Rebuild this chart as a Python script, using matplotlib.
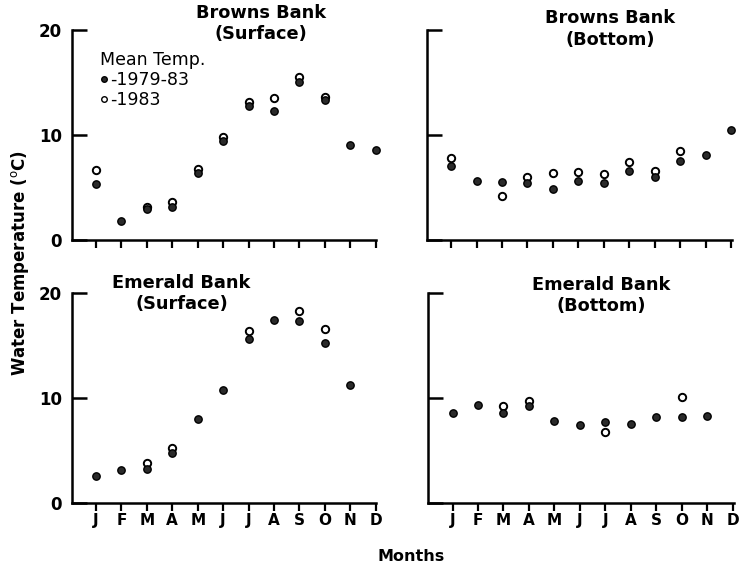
import matplotlib
matplotlib.use('Agg')
import matplotlib.pyplot as plt
import numpy as np
from matplotlib.lines import Line2D

plt.rcParams['font.family'] = ['DejaVu Sans']

nan = np.nan
months = ['J', 'F', 'M', 'A', 'M', 'J', 'J', 'A', 'S', 'O', 'N', 'D']
month_num = np.arange(1, 13)

# values (deg C)
browns_surf_mean = [5.3, 1.8, 3.0, 3.2, 6.4, 9.4, 12.8, 12.3, 15.05, 13.3, 9.1, 8.6]
browns_surf_1983 = [6.7, nan, 3.15, 3.65, 6.8, 9.8, 13.2, 13.55, 15.5, 13.65, nan, nan]

browns_bot_mean = [7.1, 5.65, 5.55, 5.4, 4.85, 5.65, 5.45, 6.6, 6.05, 7.5, 8.15, 10.45]
browns_bot_1983 = [7.85, nan, 4.2, 6.05, 6.4, 6.5, 6.3, 7.45, 6.6, 8.45, nan, nan]

emerald_surf_mean = [2.55, 3.1, 3.2, 4.7, 8.0, 10.75, 15.55, 17.4, 17.35, 15.25, 11.25, nan]
emerald_surf_1983 = [nan, nan, 3.75, 5.25, nan, nan, 16.4, nan, 18.3, 16.5, nan, nan]

emerald_bot_mean = [8.5, 9.3, 8.5, 9.2, 7.75, 7.45, 7.7, 7.5, 8.15, 8.2, 8.3, nan]
emerald_bot_1983 = [nan, nan, 9.25, 9.7, nan, nan, 6.75, nan, nan, 10.05, nan, nan]

titles = ['Browns Bank\n(Surface)', 'Browns Bank\n(Bottom)',
          'Emerald Bank\n(Surface)', 'Emerald Bank\n(Bottom)']

fig = plt.figure(figsize=(7.41, 5.69), dpi=100)

# [left, bottom, width, height], title x, title y (axes fraction)
panels = [
    ([0.097, 0.578, 0.411, 0.369], 0.62, 1.125, browns_surf_mean, browns_surf_1983),
    ([0.576, 0.578, 0.412, 0.369], 0.60, 1.10, browns_bot_mean, browns_bot_1983),
    ([0.097, 0.1165, 0.411, 0.369], 0.36, 1.09, emerald_surf_mean, emerald_surf_1983),
    ([0.578, 0.1165, 0.412, 0.369], 0.565, 1.08, emerald_bot_mean, emerald_bot_1983),
]

for i, (rect, tx, ty, mean, y83) in enumerate(panels):
    ax = fig.add_axes(rect)
    ax.plot(month_num, y83, 'o', ms=5.3, mfc='white', mec='black', mew=1.4,
            ls='none', clip_on=False, zorder=3)
    ax.plot(month_num, mean, 'o', ms=5.3, mfc='#2a2a2a', mec='black', mew=1.0,
            ls='none', clip_on=False, zorder=4)

    ax.set_xlim(0.05, 12.03)
    ax.set_ylim(0, 20)
    ax.spines['top'].set_visible(False)
    ax.spines['right'].set_visible(False)
    ax.spines['left'].set_linewidth(1.8)
    ax.spines['bottom'].set_linewidth(1.8)

    ax.set_xticks(month_num)
    ax.tick_params(axis='x', direction='out', length=6, width=1.6, pad=1.5)
    if i >= 2:
        ax.set_xticklabels(months, fontsize=11, fontweight='bold')
    else:
        ax.set_xticklabels([])

    ax.set_yticks([0, 10, 20])
    ax.tick_params(axis='y', direction='in', length=11, width=1.8, pad=7)
    if i % 2 == 0:
        ax.set_yticklabels(['0', '10', '20'], fontsize=12, fontweight='bold')
    else:
        ax.set_yticklabels([])

    ax.text(tx, ty, titles[i], transform=ax.transAxes, ha='center', va='top',
            fontsize=12.8, fontweight='bold', linespacing=1.25)

    if i == 0:
        handles = [
            Line2D([], [], marker='o', ls='none', ms=4, mfc='#2a2a2a', mec='black'),
            Line2D([], [], marker='o', ls='none', ms=4, mfc='white', mec='black'),
        ]
        leg = ax.legend(handles, ['-1979-83', '-1983'], title='Mean Temp.',
                        loc='upper left', bbox_to_anchor=(0.092, 0.9),
                        frameon=False, fontsize=12.5, title_fontsize=12.5,
                        handlelength=0.5, handletextpad=0.1,
                        labelspacing=0.1, borderpad=0, borderaxespad=0)
        leg._legend_box.align = 'left'

fig.text(0.027, 0.538, 'Water Temperature ($^{\\rm o}$C)', rotation=90,
         ha='center', va='center', fontsize=12, fontweight='bold')
fig.text(0.555, 0.022, 'Months', ha='center', va='center',
         fontsize=11.5, fontweight='bold')

fig.savefig('out.png', dpi=100)
